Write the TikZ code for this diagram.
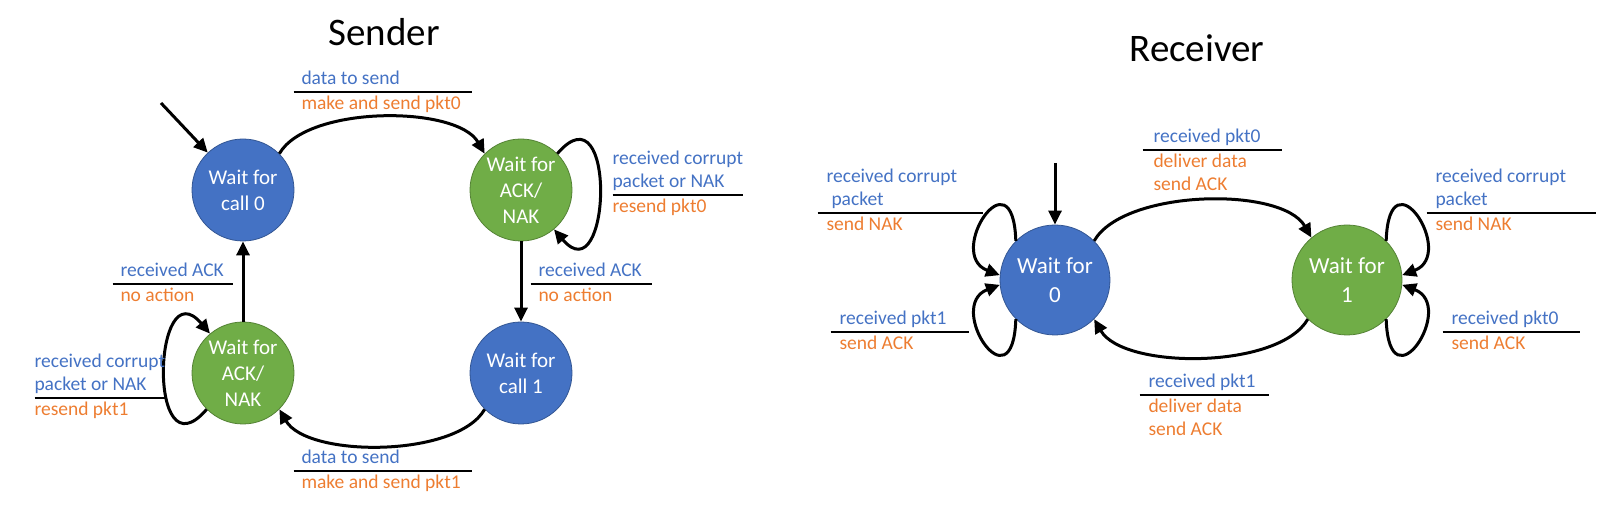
\documentclass[tikz,border=0pt]{standalone}
\usepackage{fontspec}
\setmainfont{Carlito}
\usepackage{array}
\usetikzlibrary{arrows.meta,positioning}

\definecolor{stateblue}{HTML}{4472C4}
\definecolor{stategreen}{HTML}{70AD47}
\definecolor{guardblue}{HTML}{4472C4}
\definecolor{actionorange}{HTML}{ED7D31}

\setlength{\arrayrulewidth}{0.75pt}
\newcommand{\gcol}{\color{guardblue}}
\newcommand{\acol}{\color{actionorange}}
\newcommand{\guardact}[3][4pt]{%
  \begin{tabular}{@{\hspace{#1}}>{\hbox to #2\bgroup}l<{\hss\egroup}@{}}#3\end{tabular}}

\begin{document}
\begin{tikzpicture}[x=0.5pt,y=-0.5pt,>={Triangle[length=7pt,width=6.5pt]},
                    line width=1.5pt,node distance=139pt,on grid,
                    state/.style={circle,draw=#1!75!black,line width=0.4pt,fill=#1,
                                  text=white,minimum size=51pt,inner sep=0pt,align=center,
                                  font=\fontsize{10.5}{13}\selectfont},
                    big state/.style={state=#1,minimum size=55pt,
                                      font=\fontsize{11.5}{14.5}\selectfont},
                    trans label/.style={anchor=north west,inner sep=0pt,
                                        font=\fontsize{9.75}{11.5}\selectfont},
                    title/.style={font=\fontsize{19.5}{22}\selectfont}]
  \useasboundingbox (0,0) rectangle (1614,507);

  % sender
  \node[title] (sender) at (384,32) {Sender};
  \node[state=stateblue] (call0) at (243,190) {Wait for\\call 0};
  \node[state=stategreen] (ackA) [right=of call0] {Wait for\\ACK/\\NAK};
  \node[state=stateblue] (call1) [below=91.5pt of ackA] {Wait for\\call 1};
  \node[state=stategreen] (ackB) [below=91.5pt of call0] {Wait for\\ACK/\\NAK};
  \coordinate (sstart) at (161,103);

  \path[->]
    (sstart) edge (call0)
    (call0.45) edge[out=60,in=120,looseness=0.7] (ackA.135)
    (ackA) edge (call1)
    (call1.-135) edge[out=-120,in=-60,looseness=0.7] (ackB.-45)
    (ackB) edge (call0)
    ;
  \draw[->] (ackA.45) .. controls +(60,-70) and +(57,67) .. (ackA.-50);
  \draw[->] (ackB.-135) .. controls +(-60,70) and +(-57,-67) .. (ackB.130);

  \node[trans label] (s01) at (292,67)
    {\guardact{85pt}{\gcol data to send\\\hline\acol make and send pkt0}};
  \node[trans label] (s11) at (611,147)
    {\guardact[0pt]{65pt}{\gcol received corrupt\\\gcol packet or NAK\\\hline\acol resend pkt0}};
  \node[trans label] (s12) at (529,259)
    {\guardact{56.5pt}{\gcol received ACK\\\hline\acol no action}};
  \node[trans label] (s23) at (292,446)
    {\guardact{85pt}{\gcol data to send\\\hline\acol make and send pkt1}};
  \node[trans label] (s33) at (33,350)
    {\guardact[0pt]{66pt}{\gcol received corrupt\\\gcol packet or NAK\\\hline\acol resend pkt1}};
  \node[trans label] (s30) at (111,259)
    {\guardact{56pt}{\gcol received ACK\\\hline\acol no action}};

  % receiver
  \node[title] (receiver) at (1197,48) {Receiver};
  \node[big state=stateblue] (wait0) at (1055,280) {Wait for\\0};
  \node[big state=stategreen] (wait1) [right=146pt of wait0] {Wait for\\1};
  \coordinate (rstart) at (1055,163);

  \path[->]
    (rstart) edge (wait0)
    (wait0.45) edge[out=60,in=120,looseness=0.7] (wait1.130)
    (wait1.-135) edge[out=-120,in=-60,looseness=0.7] (wait0.-45)
    ;
  \draw[->] (wait0.135) .. controls +(-3,-90) and +(-55,-21) .. (wait0.175);
  \draw[->] (wait0.-135) .. controls +(-3,90) and +(-55,21) .. (wait0.185);
  \draw[->] (wait1.45) .. controls +(3,-90) and +(55,-21) .. (wait1.5);
  \draw[->] (wait1.-45) .. controls +(3,90) and +(55,21) .. (wait1.-5);

  \node[trans label] (r01) at (1141,125)
    {\guardact[5.5pt]{64pt}{\gcol received pkt0\\\hline\acol deliver data\\\acol send ACK}};
  \node[trans label] (r00) at (816,165)
    {\guardact[4.5pt]{78pt}{\gcol received corrupt\\\gcol\hspace{2.5pt}packet\\\hline\acol send NAK}};
  \node[trans label] (r00b) at (829,307)
    {\guardact[4.5pt]{64.5pt}{\gcol received pkt1\\\hline\acol send ACK}};
  \node[trans label] (r11) at (1425,165)
    {\guardact[4.5pt]{80pt}{\gcol received corrupt\\\gcol packet\\\hline\acol send NAK}};
  \node[trans label] (r11b) at (1441,307)
    {\guardact[4.5pt]{64pt}{\gcol received pkt0\\\hline\acol send ACK}};
  \node[trans label] (r10) at (1138,370)
    {\guardact[4.5pt]{60pt}{\gcol received pkt1\\\hline\acol deliver data\\\acol send ACK}};
\end{tikzpicture}
\end{document}
